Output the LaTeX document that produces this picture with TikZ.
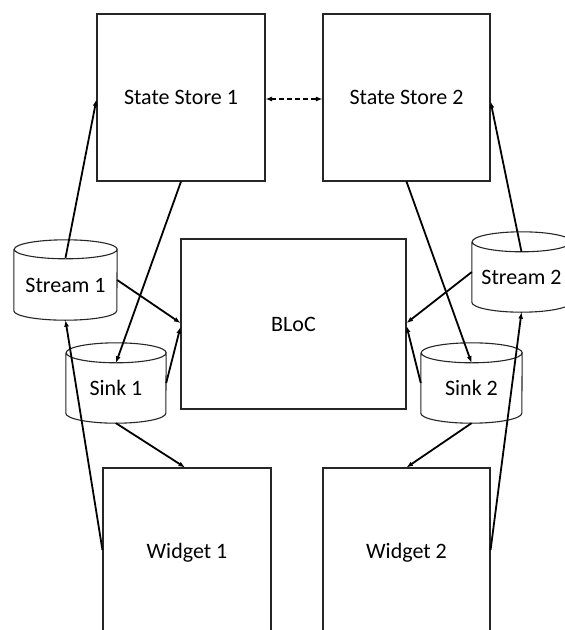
\documentclass[tikz,border=0pt]{standalone}
\usepackage{fontspec}
\setmainfont{Carlito}
\usetikzlibrary{arrows.meta,calc}
\newcommand\cylout[3]{%
  \draw[boxline] ([yshift=-#2]#1.north west) -- ([yshift=#2]#1.south west)
    arc[start angle=180,end angle=360,x radius=#3,y radius=#2]
    -- ([yshift=-#2]#1.north east)
    arc[start angle=0,end angle=360,x radius=#3,y radius=#2];}
\tikzset{
  boxline/.style={draw=black!85,line width=1.1pt},
  blk/.style={boxline,rectangle,inner sep=0pt,font=\fontsize{22}{26}\selectfont,text=black},
  cyl/.style={rectangle,inner sep=0pt,font=\fontsize{22}{26}\selectfont,text=black},
  conn/.style={line width=1.8pt,black,-{Latex[length=6.5pt,width=5pt]}},
  dconn/.style={line width=1.8pt,black,dash pattern=on 5pt off 3pt,{Latex[length=6.5pt,width=5pt]}-{Latex[length=6.5pt,width=5pt]}}
}
\begin{document}
\begin{tikzpicture}[x=1pt,y=-1pt]
\useasboundingbox (0,0) rectangle (565,630);
\clip (0,0) rectangle (565,630);
\fill[white] (0,0) rectangle (565,630);
% boxes
\node[blk,minimum width=168pt,minimum height=167pt] (ss1) at (181,97.5) {State Store 1};
\node[blk,minimum width=167pt,minimum height=167pt] (ss2) at (406.5,97.5) {State Store 2};
\node[blk,minimum width=225pt,minimum height=170pt] (bloc) at (293.5,324) {BLoC};
\node[blk,minimum width=168pt,minimum height=170pt] (w1) at (187,553) {Widget 1};
\node[blk,minimum width=167pt,minimum height=170pt] (w2) at (406.5,553) {Widget 2};
% cylinders
\node[cyl,minimum width=103pt,minimum height=80pt] (st1) at (65.5,280) {};
\cylout{st1}{9.5pt}{51.5pt}
\node[cyl] at ([yshift=-5pt]st1.center) {Stream 1};
\node[cyl,minimum width=99pt,minimum height=80pt] (st2) at (521.5,272) {};
\cylout{st2}{10pt}{49.5pt}
\node[cyl] at ([yshift=-5pt]st2.center) {Stream 2};
\node[cyl,minimum width=100pt,minimum height=80pt] (sk1) at (116,383) {};
\cylout{sk1}{10pt}{50pt}
\node[cyl] at ([yshift=-5pt]sk1.center) {Sink 1};
\node[cyl,minimum width=101pt,minimum height=80pt] (sk2) at (471.5,383) {};
\cylout{sk2}{10pt}{50.5pt}
\node[cyl] at ([yshift=-5pt]sk2.center) {Sink 2};
% connectors left
\draw[conn] ([yshift=-18pt]st1.north) -- ([yshift=-2pt]ss1.west);
\draw[conn] (ss1.south) -- ([yshift=-20pt]sk1.north);
\draw[conn] (st1.east) -- ([yshift=1pt]bloc.west);
\draw[conn] (sk1.east) -- ([yshift=-3pt]bloc.west);
\draw[conn] (sk1.south) -- ([xshift=-2pt]w1.north);
\draw[conn] ([yshift=3pt]w1.west) -- (st1.south);
% dashed
\draw[dconn] ([yshift=-1.5pt]ss1.east) -- ([yshift=-1.5pt]ss2.west);
% connectors right
\draw[conn] ([yshift=-20pt]st2.north) -- ([yshift=-4pt]ss2.east);
\draw[conn] (ss2.south) -- ([yshift=-20pt]sk2.north);
\draw[conn] (st2.west) -- ([yshift=1pt]bloc.east);
\draw[conn] (sk2.west) -- ([yshift=-2pt]bloc.east);
\draw[conn] (sk2.south) -- (w2.north);
\draw[conn] ([yshift=3pt]w2.east) -- (st2.south);
\end{tikzpicture}
\end{document}
